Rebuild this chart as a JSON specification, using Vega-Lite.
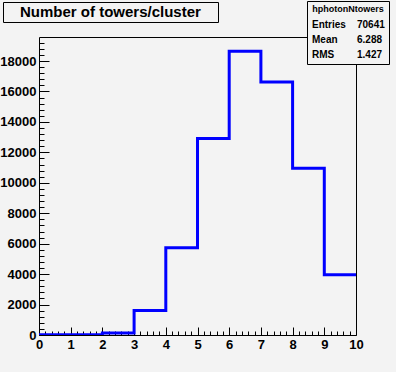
{
  "$schema": "https://vega.github.io/schema/vega-lite/v6.json",
  "width": 317,
  "height": 298,
  "autosize": "none",
  "padding": {"left": 39, "top": 37, "right": 40, "bottom": 37},
  "background": "#f3f3f3",
  "view": {"stroke": "black", "strokeWidth": 1},
  "config": {
    "font": "Liberation Sans",
    "axis": {"labelFont": "Liberation Sans", "labelFontWeight": "bold", "labelFontSize": 13, "labelColor": "black", "tickColor": "black", "domain": false, "grid": false, "zindex": 1, "ticks": true}
  },
  "datasets": {
    "hist": [
      {"towers": 0, "count": 10},
      {"towers": 1, "count": 20},
      {"towers": 2, "count": 130},
      {"towers": 3, "count": 1612},
      {"towers": 4, "count": 5726},
      {"towers": 5, "count": 12913},
      {"towers": 6, "count": 18639},
      {"towers": 7, "count": 16618},
      {"towers": 8, "count": 10958},
      {"towers": 9, "count": 3962},
      {"towers": 10, "count": 3962}
    ],
    "stats": [
      {"label": "Entries"}, {"label": "Mean"}, {"label": "RMS"},
      {"label": "70641"}, {"label": "6.288"}, {"label": "1.427"}
    ],
    "titles": [{"title": "Number of towers/cluster"}]
  },
  "layer": [
    {
      "data": {"name": "hist"},
      "mark": {"type": "line", "interpolate": "step-after", "color": "#0000ff", "strokeWidth": 3, "clip": true},
      "encoding": {
        "x": {
          "field": "towers", "type": "quantitative",
          "scale": {"domain": [0, 10], "nice": false, "zero": false},
          "axis": {
            "title": null,
            "values": [0,0.2,0.4,0.6,0.8,1,1.2,1.4,1.6,1.8,2,2.2,2.4,2.6,2.8,3,3.2,3.4,3.6,3.8,4,4.2,4.4,4.6,4.8,5,5.2,5.4,5.6,5.8,6,6.2,6.4,6.6,6.8,7,7.2,7.4,7.6,7.8,8,8.2,8.4,8.6,8.8,9,9.2,9.4,9.6,9.8,10],
            "labelExpr": "abs(datum.value - round(datum.value)) < 0.001 ? format(datum.value, 'd') : ''",
            "tickSize": {"condition": {"test": "abs(datum.value - round(datum.value)) < 0.001", "value": -8}, "value": -4},
            "labelPadding": 11,
            "labelFlush": false,
            "labelOverlap": false
          }
        },
        "y": {
          "field": "count", "type": "quantitative",
          "scale": {"domain": [0, 19580], "nice": false},
          "axis": {
            "title": null,
            "values": [0,400,800,1200,1600,2000,2400,2800,3200,3600,4000,4400,4800,5200,5600,6000,6400,6800,7200,7600,8000,8400,8800,9200,9600,10000,10400,10800,11200,11600,12000,12400,12800,13200,13600,14000,14400,14800,15200,15600,16000,16400,16800,17200,17600,18000,18400,18800,19200],
            "labelExpr": "datum.value % 2000 === 0 ? format(datum.value, 'd') : ''",
            "tickSize": {"condition": {"test": "datum.value % 2000 === 0", "value": -10}, "value": -5},
            "labelPadding": 13,
            "labelFlush": false,
            "labelOverlap": false
          }
        }
      }
    },
    {
      "data": {"name": "stats"},
      "mark": {"type": "point", "opacity": 0},
      "encoding": {
        "color": {
          "field": "label", "type": "nominal",
          "scale": {"domain": ["Entries", "Mean", "RMS", "70641", "6.288", "1.427"], "range": ["black"]},
          "legend": {
            "title": "hphotonNtowers",
            "orient": "none", "legendX": 268, "legendY": -36,
            "columns": 2, "columnPadding": 10, "rowPadding": 5,
            "padding": 4,
            "fillColor": "#f3f3f3", "strokeColor": "black",
            "titleFont": "Liberation Sans", "titleFontSize": 9, "titleFontWeight": "bold", "titleAnchor": "middle", "titlePadding": 6, "titleColor": "black",
            "labelFont": "Liberation Sans", "labelFontSize": 10, "labelFontWeight": "bold", "labelColor": "black",
            "symbolSize": 1, "symbolOpacity": 0, "symbolStrokeWidth": 0, "labelOffset": -9
          }
        }
      }
    },
    {
      "data": {"name": "titles"},
      "mark": {"type": "point", "opacity": 0},
      "encoding": {
        "shape": {
          "field": "title", "type": "nominal",
          "legend": {
            "title": "MM",
            "titleOrient": "right", "titleOpacity": 0, "titleFontSize": 9, "titlePadding": 0,
            "orient": "none", "legendX": -36, "legendY": -35,
            "padding": 2,
            "fillColor": "#f3f3f3", "strokeColor": "black",
            "labelFont": "Liberation Sans", "labelFontSize": 15, "labelFontWeight": "bold", "labelColor": "black", "labelLimit": 400,
            "symbolSize": 225, "symbolOpacity": 0, "symbolStrokeWidth": 0, "labelOffset": 0
          }
        }
      }
    }
  ]
}
